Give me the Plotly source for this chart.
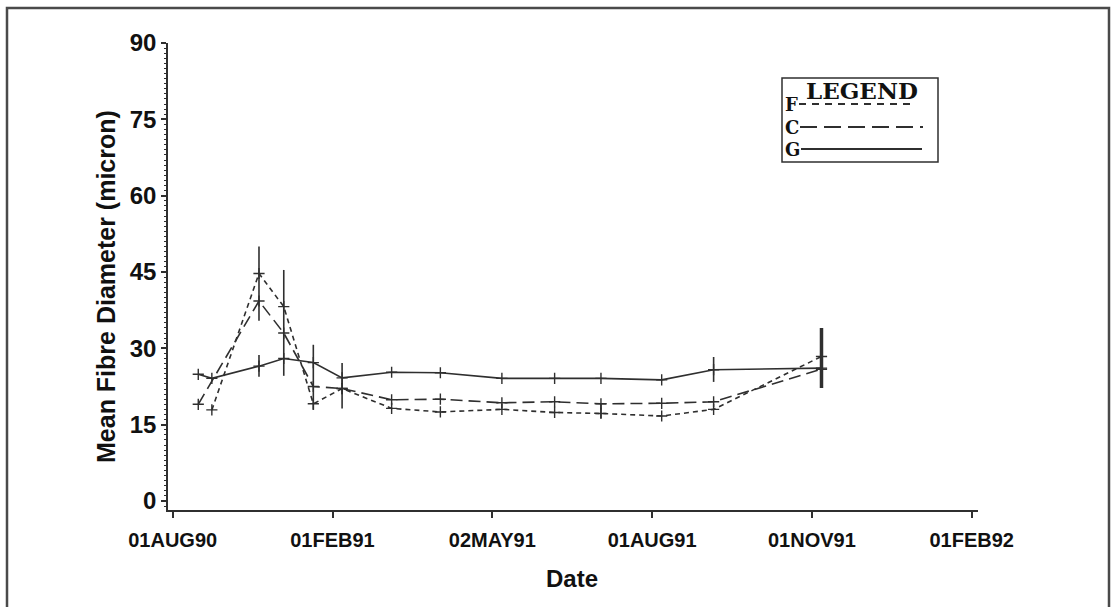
import plotly.graph_objects as go

# ---- data ----
tick_labels = ["01AUG90", "01FEB91", "02MAY91", "01AUG91", "01NOV91", "01FEB92"]
tick_pos = [0, 1, 2, 3, 4, 5]

x_G = [0.16, 0.245, 0.54, 0.695, 0.88, 1.06, 1.37, 1.675, 2.06, 2.39, 2.68, 3.06, 3.385, 4.06]
G = [24.9, 24.1, 26.5, 28.0, 27.2, 24.2, 25.3, 25.2, 24.1, 24.1, 24.1, 23.8, 25.8, 26.1]
G_lo = [None, None, 24.4, None, 17.9, None, None, None, None, None, None, None, 23.4, None]
G_hi = [None, None, 28.7, None, 30.7, None, None, None, None, None, None, None, 28.3, None]

x_C = [0.16, 0.54, 0.695, 0.88, 1.06, 1.37, 1.675, 2.06, 2.39, 2.68, 3.06, 3.385, 4.06]
C = [19.0, 39.3, 33.0, 22.5, 22.1, 19.9, 20.0, 19.3, 19.5, 19.1, 19.2, 19.5, 25.9]
C_lo = [None, None, 24.6, None, 18.2, None, None, None, None, None, None, None, None]
C_hi = [None, None, 45.4, None, 27.1, None, None, None, None, None, None, None, None]

x_F = [0.245, 0.54, 0.695, 0.88, 1.06, 1.37, 1.675, 2.06, 2.39, 2.68, 3.06, 3.385, 4.06]
F = [17.9, 44.7, 38.2, 19.1, 22.1, 18.2, 17.5, 18.0, 17.4, 17.2, 16.7, 18.0, 28.4]
F_lo = [None, 35.4, None, None, None, None, None, None, None, 16.3, None, None, None]
F_hi = [None, 50.0, None, None, None, None, None, None, None, 19.2, None, None, None]

end_x = [4.06]
end_y = [26.1]
end_lo = [22.2]
end_hi = [34.0]

INK = "#2f2f2f"
TXT = "#111111"
SANS = "Liberation Sans, Arial, sans-serif"
SERIF = "DejaVu Serif, Liberation Serif, serif"


def err(vals, lo, hi):
    plus = [None if h is None else h - v for v, h in zip(vals, hi)]
    minus = [None if l is None else v - l for v, l in zip(vals, lo)]
    return plus, minus


fig = go.Figure()

series = [
    ("F", x_F, F, F_lo, F_hi, "5px,4px"),
    ("C", x_C, C, C_lo, C_hi, "12px,6px"),
    ("G", x_G, G, G_lo, G_hi, "solid"),
]
for name, xs, ys, lo, hi, dash in series:
    p, m = err(ys, lo, hi)
    fig.add_trace(go.Scatter(
        x=xs, y=ys, name=name, mode="lines+markers",
        line=dict(color=INK, width=1.6, dash=dash),
        marker=dict(symbol="cross-thin", size=8, line=dict(color=INK, width=1.4)),
        error_y=dict(type="data", symmetric=False, array=p, arrayminus=m,
                     width=0, thickness=1.6, color=INK),
        showlegend=False,
    ))

p, m = err(end_y, end_lo, end_hi)
fig.add_trace(go.Scatter(
    x=end_x, y=end_y, mode="markers",
    marker=dict(size=1, color="rgba(0,0,0,0)"),
    error_y=dict(type="data", symmetric=False, array=p, arrayminus=m,
                 width=0, thickness=3.5, color=INK),
    showlegend=False, hoverinfo="skip",
))

# plot area: x 168..978 px, y 43..510 px
L, R, T, B = 168, 978, 43, 510
W, H = R - L, B - T


def px(xp):
    return (xp - L) / W


def py(yp):
    return (B - yp) / H


shapes = [
    # outer frame
    dict(type="rect", xref="paper", yref="paper", x0=px(7), x1=px(1109), y0=py(620), y1=py(8),
         line=dict(color="#4a4a4a", width=2.5), fillcolor="rgba(0,0,0,0)", layer="below"),
    # legend box
    dict(type="rect", xref="paper", yref="paper", x0=px(782), x1=px(938), y0=py(162), y1=py(78),
         line=dict(color=INK, width=1.5), fillcolor="white"),
    dict(type="line", xref="paper", yref="paper", x0=px(799), x1=px(916), y0=py(104), y1=py(104),
         line=dict(color=INK, width=1.8, dash="7px,6px")),
    dict(type="line", xref="paper", yref="paper", x0=px(800), x1=px(923), y0=py(127), y1=py(127),
         line=dict(color=INK, width=1.8, dash="17px,7px")),
    dict(type="line", xref="paper", yref="paper", x0=px(801), x1=px(922), y0=py(149), y1=py(149),
         line=dict(color=INK, width=1.8)),
]

annotations = [
    dict(text="LEGEND", xref="paper", yref="paper", x=px(862), y=py(90), showarrow=False,
         font=dict(family=SERIF, size=23, color=TXT, weight="bold"), xanchor="center", yanchor="middle"),
    dict(text="F", xref="paper", yref="paper", x=px(783), y=py(104), showarrow=False,
         font=dict(family=SERIF, size=18, color=TXT, weight="bold"), xanchor="left", yanchor="middle"),
    dict(text="C", xref="paper", yref="paper", x=px(783), y=py(127), showarrow=False,
         font=dict(family=SERIF, size=18, color=TXT, weight="bold"), xanchor="left", yanchor="middle"),
    dict(text="G", xref="paper", yref="paper", x=px(783), y=py(149), showarrow=False,
         font=dict(family=SERIF, size=18, color=TXT, weight="bold"), xanchor="left", yanchor="middle"),
    dict(text="Mean Fibre Diameter (micron)", xref="paper", yref="paper", x=px(106), y=py(287),
         showarrow=False, textangle=-90, xanchor="center", yanchor="middle",
         font=dict(family=SANS, size=25, color=TXT, weight="bold")),
    dict(text="Date", xref="paper", yref="paper", x=px(572), y=py(578), showarrow=False,
         xanchor="center", yanchor="middle",
         font=dict(family=SANS, size=24, color=TXT, weight="bold")),
]

fig.update_layout(
    width=1115, height=607,
    margin=dict(l=L, r=1115 - R, t=T, b=607 - B),
    paper_bgcolor="white", plot_bgcolor="white",
    shapes=shapes, annotations=annotations,
    showlegend=False,
    xaxis=dict(
        range=[(L - 172.7) / 159.8, (R - 172.7) / 159.8],
        tickmode="array", tickvals=tick_pos, ticktext=tick_labels,
        showgrid=False, zeroline=False, showline=True, linecolor=INK, linewidth=1.5,
        ticks="outside", ticklen=6, tickwidth=1.5, tickcolor=INK,
        tickfont=dict(family=SANS, size=20, color=TXT, weight="bold"),
        ticklabelstandoff=5,
    ),
    yaxis=dict(
        range=[-1.77, 90],
        tickmode="array", tickvals=[0, 15, 30, 45, 60, 75, 90],
        showgrid=False, zeroline=False, showline=True, linecolor=INK, linewidth=1.5,
        ticks="outside", ticklen=5, tickwidth=1.5, tickcolor=INK,
        minor=dict(tickmode="linear", tick0=0, dtick=1, ticks="outside", ticklen=2,
                   tickwidth=1, tickcolor=INK),
        tickfont=dict(family=SANS, size=24, color=TXT, weight="bold"),
    ),
)

fig.write_html("out.html")
